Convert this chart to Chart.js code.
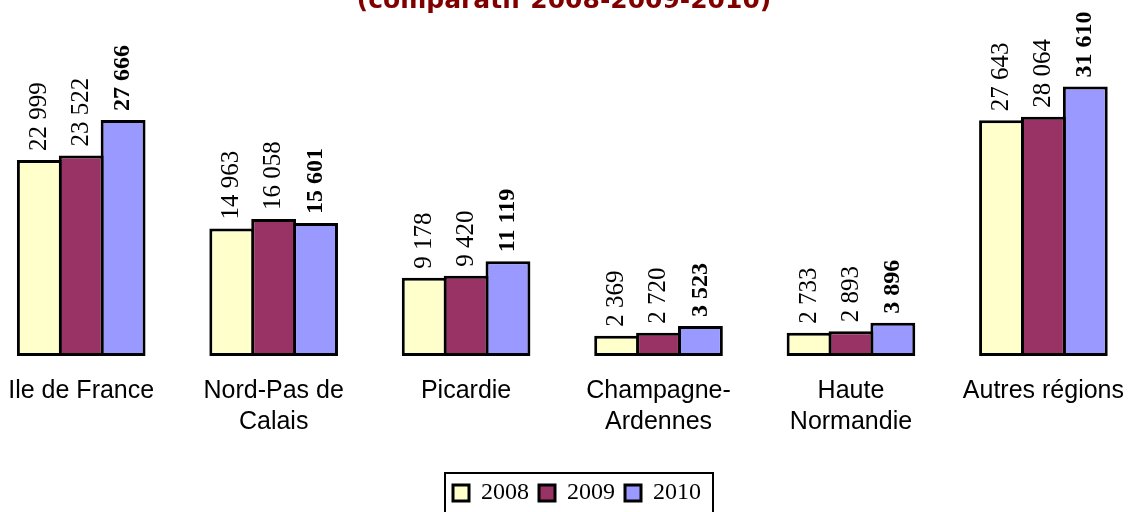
<!DOCTYPE html>
<html lang="fr">
<head>
<meta charset="UTF-8">
<title>Comparatif 2008-2009-2010</title>
<script src="https://cdn.jsdelivr.net/npm/chart.js"></script>
<style>
    html, body { margin: 0; padding: 0; background: #fff; overflow: hidden; }
    #cadre { position: absolute; left: -15px; top: -14px; width: 1158px; height: 529px; }
</style>
</head>
<body>
<div id="cadre"><canvas id="graphique"></canvas></div>
<script>
const regions = ['Ile de France', ['Nord-Pas de', 'Calais'], 'Picardie', ['Champagne-', 'Ardennes'], ['Haute', 'Normandie'], 'Autres régions'];
const annees = ['2008', '2009', '2010'];
const val2008 = [22999, 14963, 9178, 2369, 2733, 27643];
const val2009 = [23522, 16058, 9420, 2720, 2893, 28064];
const val2010 = [27666, 15601, 11119, 3523, 3896, 31610];
const couleurs = ['#FFFFCC', '#993366', '#9999FF'];

function formatNombre(n) {
    return n.toString().replace(/\B(?=(\d{3})+(?!\d))/g, ' ');
}

// valeurs verticales au-dessus des barres (2010 en gras)
const etiquettes = {
    id: 'etiquettes',
    afterDatasetsDraw(chart) {
        const ctx = chart.ctx;
        chart.data.datasets.forEach((ds, i) => {
            const meta = chart.getDatasetMeta(i);
            meta.data.forEach((bar, j) => {
                ctx.save();
                ctx.translate(bar.x, bar.y - 9);
                ctx.rotate(-Math.PI / 2);
                ctx.font = (i === 2 ? 'bold 24px' : '25px') + ' "Liberation Serif", "Times New Roman", serif';
                ctx.fillStyle = '#000';
                ctx.textAlign = 'left';
                ctx.textBaseline = 'middle';
                ctx.fillText(formatNombre(ds.data[j]), 0, 0);
                ctx.restore();
            });
        });
    }
};

// cadre autour de la légende (légende un peu décalée à droite comme l'original)
const cadreLegende = {
    id: 'cadreLegende',
    afterUpdate(chart) {
        const lg = chart.legend;
        if (!lg) return;
        lg.left += 13;
        lg.right += 13;
    },
    afterDraw(chart) {
        const lg = chart.legend;
        if (!lg || !lg.lineWidths) return;
        const pad = 10;
        const debut = (lg.left + pad + lg.right - lg.lineWidths[0]) / 2;
        const fin = debut + lg.lineWidths[0] - pad;
        const milieu = lg.top + pad + 12;
        const ctx = chart.ctx;
        ctx.save();
        ctx.strokeStyle = '#000';
        ctx.lineWidth = 2;
        ctx.strokeRect(debut - 8, milieu - 20, fin - debut + 20, 40);
        ctx.restore();
    }
};

const donnees = [val2008, val2009, val2010];

new Chart(document.getElementById('graphique').getContext('2d'), {
    type: 'bar',
    data: {
        labels: regions,
        datasets: annees.map((a, i) => ({
            label: a,
            data: donnees[i],
            backgroundColor: couleurs[i],
            borderColor: '#000',
            borderWidth: 3,
            borderSkipped: false,
            categoryPercentage: 0.653,
            barPercentage: 1.071
        }))
    },
    options: {
        responsive: true,
        maintainAspectRatio: false,
        animation: false,
        layout: { padding: 0 },
        plugins: {
            title: {
                display: true,
                text: '(comparatif 2008-2009-2010)',
                color: '#800000',
                font: { family: '"DejaVu Sans", Verdana, sans-serif', size: 25, weight: 'bold', lineHeight: 1.2 },
                padding: { top: 0, bottom: 10 }
            },
            legend: {
                position: 'bottom',
                labels: {
                    color: '#000',
                    boxWidth: 16,
                    boxHeight: 16,
                    padding: 10,
                    font: { family: '"Liberation Serif", "Times New Roman", serif', size: 24 }
                }
            },
            tooltip: { enabled: false }
        },
        scales: {
            x: {
                grid: { display: false, drawTicks: false },
                border: { display: false },
                ticks: {
                    color: '#000',
                    padding: 19,
                    maxRotation: 0,
                    autoSkip: false,
                    font: { family: '"Liberation Sans", Arial, sans-serif', size: 25, lineHeight: 1.26 }
                },
                afterFit: (axe) => { axe.height = 115; }
            },
            y: {
                display: false,
                min: 0,
                max: 38700
            }
        }
    },
    plugins: [etiquettes, cadreLegende]
});
</script>
</body>
</html>
